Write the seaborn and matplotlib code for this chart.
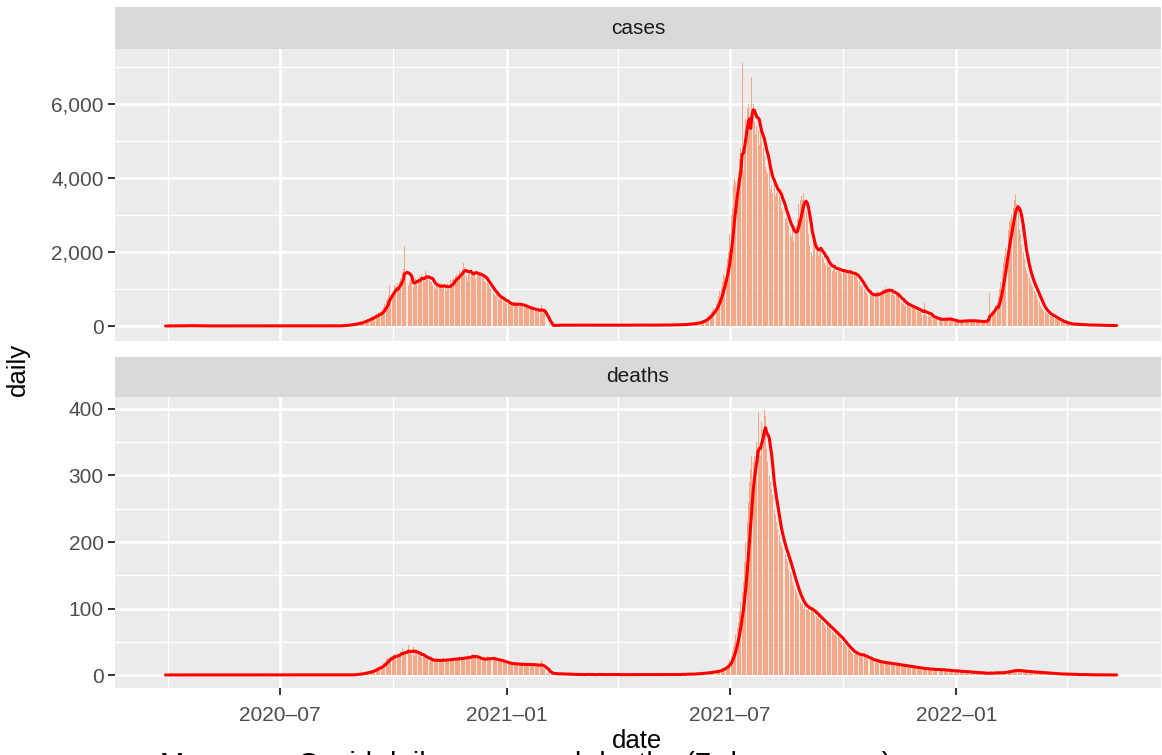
import numpy as np
import pandas as pd
import matplotlib
matplotlib.use("Agg")
import matplotlib.pyplot as plt
import matplotlib.ticker as mticker
import seaborn as sns

# ---------------- data ----------------
start_date = "2020-03-24"
panel_labels = ["cases", "deaths"]
x_tick_dates = ["2020-07-01", "2021-01-01", "2021-07-01", "2022-01-01"]
x_tick_labels = ["2020\u201307", "2021\u201301", "2021\u201307", "2022\u201301"]
x_minor_dates = ["2020-04-01", "2020-10-01", "2021-04-01", "2021-10-01", "2022-04-01"]
cases_ticks = [0, 2000, 4000, 6000]
cases_minor = [1000, 3000, 5000, 7000]
deaths_ticks = [0, 100, 200, 300, 400]
deaths_minor = [50, 150, 250, 350]
caption = "Myanmar: Covid daily cases and deaths (7-day average)"

cases_daily = [
    3, 0, 0, 2, 0, 3, 2,
    4, 0, 1, 0, 1, 0, 0,
    6, 0, 1, 0, 4, 14, 7,
    1, 12, 12, 8, 6, 8, 4,
    10, 6, 9, 8, 5, 4, 5,
    2, 4, 1, 1, 5, 1, 4,
    2, 0, 0, 1, 0, 2, 0,
    2, 1, 1, 1, 0, 2, 0,
    2, 0, 4, 0, 1, 4, 5,
    5, 6, 2, 1, 2, 8, 6,
    1, 0, 2, 2, 4, 5, 3,
    1, 0, 2, 3, 1, 1, 2,
    2, 1, 3, 1, 4, 0, 1,
    2, 1, 3, 0, 1, 1, 2,
    0, 1, 1, 3, 1, 2, 1,
    1, 1, 0, 2, 0, 2, 1,
    0, 3, 1, 0, 0, 2, 1,
    0, 1, 1, 0, 2, 0, 1,
    1, 1, 2, 0, 1, 0, 1,
    2, 1, 2, 1, 0, 0, 1,
    0, 1, 2, 0, 1, 1, 8,
    6, 10, 11, 14, 20, 19, 23,
    24, 35, 40, 42, 55, 58, 63,
    70, 76, 80, 95, 115, 122, 140,
    150, 165, 180, 196, 220, 240, 260,
    240, 290, 330, 300, 370, 350, 380,
    430, 520, 600, 700, 720, 850, 1100,
    800, 900, 950, 1100, 1050, 1150, 1050,
    1200, 1300, 1450, 1550, 2160, 1300, 1190,
    1100, 1200, 1250, 1150, 1050, 1200, 1300,
    1250, 1300, 1350, 1200, 1400, 1250, 1200,
    1500, 1400, 1300, 1250, 1200, 1200, 1110,
    1050, 1000, 1100, 1050, 1150, 1050, 1160,
    1000, 1100, 1050, 950, 1150, 1000, 1240,
    1150, 1250, 1300, 1350, 1400, 1300, 1350,
    1500, 1450, 1550, 1700, 1600, 1350, 1210,
    1400, 1500, 1550, 1400, 1450, 1500, 1280,
    1400, 1350, 1450, 1400, 1300, 1350, 1200,
    1200, 1150, 1100, 1050, 1000, 950, 900,
    850, 800, 850, 750, 700, 750, 760,
    700, 650, 650, 600, 620, 550, 570,
    600, 600, 550, 650, 550, 600, 580,
    600, 550, 520, 560, 500, 480, 500,
    480, 460, 450, 470, 430, 420, 440,
    420, 400, 380, 570, 360, 380, 350,
    12, 8, 10, 25, 15, 18, 20,
    20, 25, 18, 30, 22, 15, 28,
    25, 20, 30, 18, 22, 27, 15,
    20, 28, 25, 22, 18, 30, 24,
    18, 25, 20, 30, 28, 22, 15,
    22, 18, 26, 20, 30, 25, 20,
    28, 20, 15, 25, 22, 18, 30,
    20, 25, 22, 18, 28, 30, 20,
    18, 22, 25, 30, 20, 15, 25,
    25, 20, 28, 22, 18, 30, 24,
    22, 28, 20, 25, 30, 18, 22,
    30, 25, 20, 28, 22, 26, 20,
    25, 30, 22, 18, 28, 24, 30,
    28, 22, 30, 26, 25, 32, 20,
    30, 25, 28, 35, 22, 30, 28,
    32, 28, 35, 40, 30, 38, 42,
    45, 50, 55, 48, 60, 65, 58,
    70, 75, 85, 90, 80, 100, 110,
    130, 150, 170, 200, 210, 250, 300,
    320, 380, 420, 480, 520, 600, 660,
    800, 950, 1050, 1200, 1400, 1350, 1600,
    1800, 2000, 2500, 3000, 3200, 3800, 4000,
    3900, 4000, 4200, 4500, 4800, 7100, 4200,
    5000, 5600, 5900, 6000, 5400, 5260, 6740,
    6000, 5500, 5200, 5400, 5300, 4900, 5500,
    5000, 4800, 4600, 4300, 4200, 4100, 4400,
    3700, 3800, 3600, 3900, 3500, 3600, 3800,
    3500, 3400, 3200, 3100, 3000, 2900, 2950,
    2800, 2700, 2500, 2400, 2600, 2300, 2550,
    2700, 2900, 3300, 3400, 3500, 3400, 3600,
    3300, 3100, 2900, 2500, 2200, 2000, 1900,
    2300, 2100, 2000, 2200, 1900, 2100, 2100,
    1900, 1800, 1700, 1650, 1750, 1600, 1640,
    1600, 1500, 1550, 1650, 1450, 1500, 1600,
    1500, 1450, 1400, 1550, 1500, 1450, 1440,
    1500, 1400, 1450, 1350, 1450, 1400, 1390,
    1350, 1250, 1200, 1100, 1050, 1100, 1000,
    950, 900, 850, 800, 900, 800, 820,
    850, 900, 800, 950, 850, 900, 910,
    1000, 950, 1050, 900, 1000, 950, 940,
    950, 900, 850, 800, 850, 800, 800,
    700, 650, 600, 650, 550, 600, 590,
    550, 500, 520, 480, 500, 450, 500,
    450, 400, 380, 380, 330, 300, 620,
    320, 280, 300, 250, 260, 240, 250,
    200, 190, 180, 170, 180, 160, 180,
    200, 180, 210, 190, 170, 200, 180,
    150, 140, 120, 130, 110, 120, 140,
    140, 130, 150, 140, 130, 150, 140,
    150, 140, 130, 150, 140, 130, 140,
    120, 130, 110, 120, 130, 110, 120,
    150, 200, 250, 890, 300, 350, 400,
    450, 550, 650, 800, 1000, 1200, 1500,
    1700, 1900, 2100, 2400, 2600, 2800, 2900,
    3000, 3200, 3400, 3570, 3300, 3200, 2600,
    2500, 2200, 2000, 1800, 1600, 1500, 1400,
    1300, 1200, 1100, 1050, 950, 900, 850,
    700, 650, 550, 500, 450, 400, 380,
    350, 320, 300, 280, 250, 260, 230,
    200, 180, 160, 150, 130, 120, 110,
    90, 80, 70, 60, 55, 60, 50,
    50, 45, 40, 50, 45, 40, 45,
    35, 30, 28, 32, 30, 25, 30,
    25, 28, 22, 25, 20, 30, 25,
    20, 18, 15, 22, 18, 16, 17,
    12, 14, 10, 15, 11, 12, 10,
    9, 11,
]

deaths_daily = [
    0, 0, 0, 0, 0, 0, 1,
    0, 0, 0, 0, 0, 1, 0,
    0, 1, 0, 0, 0, 1, 0,
    0, 1, 0, 0, 0, 0, 0,
    0, 0, 0, 0, 1, 0, 0,
    0, 0, 0, 0, 0, 0, 0,
    0, 0, 0, 0, 0, 0, 0,
    0, 0, 0, 0, 0, 0, 0,
    0, 0, 0, 0, 0, 0, 0,
    0, 0, 0, 0, 0, 0, 0,
    0, 0, 0, 0, 0, 0, 0,
    0, 0, 0, 0, 0, 0, 0,
    0, 0, 0, 0, 0, 0, 0,
    0, 0, 0, 0, 0, 0, 0,
    0, 0, 0, 0, 0, 0, 0,
    0, 0, 0, 0, 0, 0, 0,
    0, 0, 0, 0, 0, 0, 0,
    0, 0, 0, 0, 0, 0, 0,
    0, 0, 0, 0, 0, 0, 0,
    0, 0, 0, 0, 0, 0, 0,
    0, 0, 0, 0, 0, 0, 0,
    0, 0, 0, 0, 0, 0, 0,
    0, 0, 1, 0, 0, 1, 1,
    1, 1, 2, 2, 3, 2, 3,
    3, 4, 5, 4, 6, 5, 8,
    8, 9, 10, 12, 11, 14, 13,
    15, 18, 20, 24, 26, 25, 26,
    28, 25, 30, 32, 27, 31, 30,
    32, 35, 40, 30, 36, 33, 32,
    45, 33, 38, 30, 42, 28, 36,
    35, 32, 28, 30, 26, 30, 29,
    26, 22, 24, 20, 25, 21, 23,
    20, 24, 22, 21, 23, 20, 24,
    22, 25, 20, 24, 23, 22, 25,
    23, 26, 24, 25, 22, 24, 24,
    28, 25, 27, 24, 26, 27, 25,
    30, 26, 28, 32, 27, 25, 28,
    26, 24, 22, 25, 23, 24, 24,
    24, 28, 23, 26, 25, 24, 25,
    24, 22, 21, 23, 22, 20, 22,
    20, 19, 18, 17, 18, 16, 18,
    17, 16, 18, 15, 17, 16, 16,
    16, 17, 15, 16, 15, 17, 16,
    15, 16, 14, 17, 15, 16, 15,
    14, 13, 12, 23, 11, 10, 9,
    3, 2, 4, 2, 3, 1, 2,
    2, 1, 3, 2, 1, 2, 1,
    1, 2, 1, 1, 2, 1, 1,
    1, 0, 1, 2, 1, 0, 1,
    0, 1, 1, 0, 2, 1, 0,
    1, 0, 1, 1, 0, 1, 2,
    0, 1, 0, 1, 1, 0, 1,
    1, 1, 0, 0, 1, 2, 0,
    0, 1, 1, 0, 1, 0, 1,
    1, 0, 0, 1, 1, 0, 1,
    0, 1, 1, 0, 0, 1, 0,
    1, 0, 1, 1, 0, 0, 1,
    0, 1, 0, 1, 1, 0, 1,
    1, 0, 1, 0, 1, 1, 0,
    0, 1, 1, 0, 1, 0, 1,
    1, 1, 0, 1, 2, 1, 1,
    1, 1, 2, 1, 1, 2, 1,
    2, 1, 2, 3, 2, 2, 3,
    2, 3, 3, 4, 3, 3, 4,
    4, 5, 4, 6, 5, 5, 6,
    7, 8, 9, 10, 11, 12, 14,
    15, 18, 22, 28, 35, 42, 50,
    60, 70, 80, 95, 110, 125, 140,
    170, 200, 230, 260, 290, 310, 330,
    320, 330, 320, 350, 395, 340, 330,
    380, 370, 398, 390, 340, 320, 300,
    290, 280, 270, 250, 240, 230, 220,
    210, 200, 195, 190, 185, 180, 175,
    170, 160, 155, 150, 140, 135, 130,
    125, 120, 115, 110, 105, 108, 100,
    105, 100, 98, 102, 95, 100, 96,
    95, 90, 88, 85, 90, 82, 86,
    80, 78, 75, 72, 76, 70, 74,
    68, 65, 62, 60, 64, 58, 60,
    55, 52, 50, 48, 46, 44, 42,
    40, 38, 36, 34, 32, 30, 35,
    32, 30, 28, 31, 29, 27, 33,
    26, 25, 23, 24, 22, 25, 23,
    21, 20, 22, 19, 20, 18, 20,
    18, 20, 17, 19, 16, 18, 18,
    16, 17, 15, 18, 14, 16, 16,
    15, 14, 13, 15, 14, 13, 14,
    13, 12, 11, 12, 13, 11, 12,
    11, 10, 9, 11, 10, 9, 10,
    9, 10, 8, 9, 8, 9, 10,
    8, 7, 8, 9, 7, 8, 9,
    7, 8, 6, 7, 7, 6, 8,
    6, 5, 7, 6, 5, 6, 7,
    5, 4, 6, 5, 4, 5, 6,
    4, 5, 3, 4, 4, 3, 5,
    3, 4, 3, 2, 3, 4, 2,
    3, 2, 3, 4, 3, 2, 4,
    3, 4, 3, 3, 4, 3, 4,
    4, 5, 4, 6, 5, 6, 7,
    6, 7, 8, 7, 6, 7, 6,
    7, 6, 5, 6, 5, 6, 5,
    5, 4, 5, 4, 4, 5, 4,
    4, 3, 4, 3, 3, 4, 3,
    3, 2, 3, 2, 3, 2, 2,
    2, 1, 2, 2, 1, 2, 1,
    1, 2, 1, 1, 1, 2, 1,
    1, 1, 0, 1, 1, 0, 1,
    1, 0, 1, 1, 0, 1, 0,
    0, 1, 0, 0, 1, 0, 0,
    0, 0, 1, 0, 0, 0, 1,
    0, 0, 0, 1, 0, 0, 0,
    0, 0,
]

n = min(len(cases_daily), len(deaths_daily))
df = pd.DataFrame({
    "date": pd.date_range(start_date, periods=n, freq="D"),
    "cases": cases_daily[:n],
    "deaths": deaths_daily[:n],
})
for col in panel_labels:
    df[col + "_roll"] = df[col].rolling(7).mean()

# ---------------- style ----------------
sns.set_theme(style="darkgrid", rc={"axes.facecolor": "#EBEBEB", "grid.color": "white"})
plt.rcParams["font.family"] = ["Liberation Sans", "DejaVu Sans"]

W, H = 1162, 755
fig = plt.figure(figsize=(W / 100, H / 100), dpi=100)
fig.patch.set_facecolor("white")


def box(l, t, r, b):
    return [l / W, 1 - b / H, (r - l) / W, (b - t) / H]


ax1 = fig.add_axes(box(115, 49, 1161, 341))
ax2 = fig.add_axes(box(115, 397, 1161, 688))
s1 = fig.add_axes(box(115, 7, 1161, 49))
s2 = fig.add_axes(box(115, 357, 1161, 397))

xmin = pd.Timestamp("2020-02-18")
xmax = pd.Timestamp("2022-06-16")

bar_color = "#F4A888"
line_color = "#FF0000"

settings = [
    (ax1, "cases", cases_ticks, cases_minor, (-405, 7486)),
    (ax2, "deaths", deaths_ticks, deaths_minor, (-19.5, 418)),
]

for ax, col, majors, minors, ylim in settings:
    ax.set_facecolor("#EBEBEB")
    ax.set_axisbelow(True)
    ax.bar(df["date"], df[col], width=0.8, color=bar_color, linewidth=0, zorder=2)
    roll = df[["date", col + "_roll"]].dropna()
    sns.lineplot(data=roll, x="date", y=col + "_roll", ax=ax, color=line_color,
                 linewidth=2.2, estimator=None, zorder=3)
    ax.set_xlim(xmin, xmax)
    ax.set_ylim(*ylim)
    ax.set_xticks(pd.to_datetime(x_tick_dates))
    ax.set_xticks(pd.to_datetime(x_minor_dates), minor=True)
    ax.set_yticks(majors)
    ax.set_yticks(minors, minor=True)
    ax.yaxis.set_major_formatter(mticker.FuncFormatter(lambda v, p: f"{int(v):,}"))
    ax.grid(which="major", color="white", linewidth=1.9)
    ax.grid(which="minor", color="white", linewidth=0.95)
    for sp in ax.spines.values():
        sp.set_visible(False)
    ax.set_xlabel("")
    ax.set_ylabel("")
    ax.tick_params(axis="y", which="major", length=4.7, width=1.4, color="#333333",
                   labelsize=15, labelcolor="#4D4D4D", pad=3.5, left=True)
    ax.tick_params(axis="both", which="minor", length=0)

ax1.tick_params(axis="x", which="major", length=0, labelbottom=False)
ax2.set_xticklabels(x_tick_labels)
ax2.tick_params(axis="x", which="major", length=4.7, width=1.4, color="#333333",
                labelsize=15, labelcolor="#4D4D4D", pad=8.5, bottom=True)

for s, label in zip([s1, s2], panel_labels):
    s.set_facecolor("#D9D9D9")
    s.set_xticks([])
    s.set_yticks([])
    s.grid(False)
    for sp in s.spines.values():
        sp.set_visible(False)
    s.text(0.5, 0.5, label, ha="center", va="center", fontsize=15,
           color="#1A1A1A", transform=s.transAxes)

fig.text(18 / W, 1 - 369 / H, "daily", rotation=90, ha="center", va="center",
         fontsize=18.5, color="black")
fig.text(637 / W, 1 - 741 / H, "date", ha="center", va="center",
         fontsize=18.5, color="black")
fig.text(160 / W, (H - 773) / H, caption, ha="left", va="baseline",
         fontsize=21, color="black")

fig.savefig("out.png", dpi=100)
